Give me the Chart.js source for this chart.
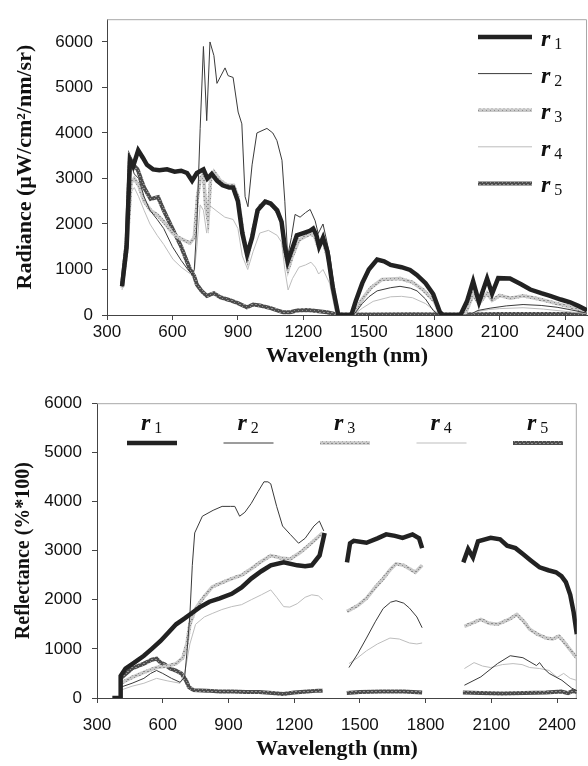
<!DOCTYPE html>
<html>
<head>
<meta charset="utf-8">
<script src="https://cdn.jsdelivr.net/npm/chart.js@4.4.1/dist/chart.umd.min.js"></script>
<style>
  body { margin: 0; background: #fff; }
  canvas { position: absolute; left: 0; }
</style>
</head>
<body>
<canvas id="rad" width="588" height="383" style="top:0"></canvas>
<canvas id="ref" width="588" height="383" style="top:383px"></canvas>
<script>
// ---- tick labels ----
const xTickVals = [300, 600, 900, 1200, 1500, 1800, 2100, 2400];
const yTickVals = [0, 1000, 2000, 3000, 4000, 5000, 6000];
const legendLabels = ['1', '2', '3', '4', '5'];

// ---- radiance (top) ----
const rad1W = [369,390,405,420,443,465,483,511,540,575,610,640,667,690,712,742,760,780,804,830,860,878,900,920,942,965,990,1025,1050,1080,1100,1115,1128,1145,1170,1200,1230,1245,1260,1272,1290,1310,1335,1360,1420,1440,1470,1500,1538,1570,1600,1650,1689,1720,1760,1795,1826,1840,1920,1950,1978,2005,2042,2065,2093,2147,2200,2240,2290,2331,2380,2423,2460,2482,2500];
const rad1  = [630,1500,3400,3270,3620,3450,3300,3200,3180,3200,3150,3170,3120,2950,3120,3200,3000,3100,2950,2850,2800,2800,2500,1800,1330,1700,2300,2490,2450,2300,2050,1500,1170,1400,1750,1800,1850,1900,1750,1500,1700,1400,600,0,0,300,700,1000,1220,1180,1100,1050,990,880,700,460,60,0,0,300,740,280,800,470,810,800,670,560,480,420,340,280,200,150,100];

const rad2W = [369,390,410,425,445,470,497,530,560,600,640,672,690,700,712,727,742,757,772,790,804,841,855,878,901,918,933,946,965,987,1033,1060,1079,1102,1115,1128,1145,1162,1185,1210,1231,1254,1268,1290,1322,1354,1370,1430,1470,1500,1538,1600,1643,1690,1721,1760,1795,1820,1960,2000,2056,2130,2207,2290,2363,2430,2500];
const rad2  = [630,1500,3300,3100,3000,2600,2300,2100,1900,1500,1200,990,900,1000,2000,4100,5900,4270,6000,5700,5090,5430,5260,5220,4460,4200,2600,2380,3300,4000,4100,4000,3830,3400,2500,1300,1700,2210,2150,2250,2320,2070,1790,2000,1300,100,0,0,250,400,530,600,630,590,530,350,100,0,0,100,150,200,230,210,170,110,40];

const rad3W = [369,390,410,425,445,470,500,530,560,600,621,650,680,700,715,727,742,752,763,775,790,820,850,880,900,920,945,970,1000,1030,1070,1100,1115,1130,1150,1180,1230,1250,1265,1290,1320,1345,1360,1430,1470,1510,1560,1643,1700,1750,1800,1830,1940,1978,2005,2042,2065,2100,2150,2207,2280,2363,2430,2470,2500];
const rad3  = [600,1400,2900,3000,2850,2500,2300,2200,2050,1800,1720,1650,1580,1700,2600,2990,3100,2400,2100,3000,3150,2950,2850,2850,2600,1900,1250,1900,2400,2500,2350,2050,1400,1000,1300,1650,1780,1750,1550,1650,1100,400,0,0,350,600,780,800,720,550,300,0,0,450,250,480,320,430,370,420,350,250,170,100,60];

const rad4W = [369,390,410,425,445,470,497,530,560,603,640,680,700,712,727,742,757,772,804,840,878,900,920,945,970,1000,1040,1080,1100,1115,1130,1150,1180,1210,1235,1255,1270,1290,1320,1350,1430,1470,1520,1600,1650,1700,1760,1800,1830,1960,2000,2050,2100,2207,2300,2400,2500];
const rad4  = [550,1300,2700,2800,2600,2300,2000,1750,1550,1220,1050,910,950,1500,2420,2300,1800,2400,2280,2150,2100,1900,1300,1000,1400,1800,1860,1750,1600,1000,550,800,1050,1100,1160,1050,900,1000,700,0,0,150,300,400,410,380,250,100,0,0,80,120,140,160,130,80,30];

const rad5W = [369,390,405,420,440,470,500,534,560,600,640,680,700,712,735,758,790,818,860,900,941,970,1001,1050,1080,1107,1140,1170,1220,1260,1308,1340,1380,1500,1700,1900,2100,2300,2500];
const rad5  = [650,1600,3450,3300,3200,2800,2550,2590,2300,1900,1500,1010,850,670,520,420,480,390,330,260,170,230,210,150,100,60,60,100,110,90,60,30,10,10,15,10,20,20,20];

// ---- reflectance (bottom), null = gap ----
const ref1W = [370,405,408,430,470,514,550,590,625,661,700,724,770,813,860,915,960,1004,1050,1093,1152,1214,1250,1280,1316,1339,1390,1441,1455,1472,1530,1580,1620,1660,1695,1740,1770,1784,1880,1972,1994,2016,2039,2097,2140,2172,2210,2244,2280,2320,2360,2395,2420,2440,2460,2475,2490];
const ref1  = [0,0,450,600,720,860,1000,1160,1330,1500,1620,1700,1850,1960,2030,2120,2250,2430,2580,2700,2760,2700,2680,2700,2900,3360,null,2760,3150,3200,3160,3250,3330,3300,3260,3330,3250,3050,null,2760,3030,2860,3190,3260,3230,3100,3050,2930,2800,2660,2600,2560,2480,2360,2100,1760,1300];

const ref2W = [408,460,514,545,572,600,640,679,700,712,724,735,746,781,830,871,910,929,951,975,1004,1035,1062,1080,1093,1120,1147,1182,1220,1250,1290,1315,1335,1390,1450,1490,1530,1570,1606,1640,1665,1700,1726,1760,1784,1880,1977,2052,2128,2186,2244,2290,2306,2320,2340,2364,2422,2467,2490];
const ref2  = [220,300,400,500,560,500,400,320,420,1000,1700,2700,3360,3700,3820,3900,3900,3900,3700,3780,3960,4200,4400,4400,4360,3900,3500,3330,3150,3250,3500,3600,3400,null,620,900,1220,1550,1820,1950,1980,1930,1830,1650,1430,null,260,430,700,860,820,700,660,720,600,500,360,200,150];

const ref3W = [408,460,514,572,620,661,692,710,724,750,790,826,870,915,960,1004,1050,1093,1140,1182,1227,1280,1330,1390,1441,1490,1530,1570,1606,1640,1665,1700,1726,1753,1784,1880,1977,2052,2090,2128,2180,2216,2250,2275,2310,2350,2380,2408,2430,2453,2489];
const ref3  = [300,420,520,620,650,700,820,1100,1500,1820,2070,2260,2350,2430,2500,2630,2780,2900,2850,2830,2960,3160,3360,null,1760,1880,2030,2250,2430,2620,2730,2700,2630,2560,2700,null,1460,1600,1520,1500,1600,1700,1550,1400,1300,1220,1200,1260,1150,1020,820];

const ref4W = [408,460,514,572,620,679,700,724,750,790,826,870,915,960,1004,1050,1093,1120,1152,1180,1214,1250,1280,1310,1330,1390,1450,1490,1530,1580,1637,1680,1726,1760,1784,1880,1977,2021,2060,2097,2150,2199,2240,2275,2320,2364,2400,2430,2460,2489];
const ref4  = [160,240,300,400,350,300,500,1100,1500,1650,1720,1800,1860,1900,2000,2100,2200,2050,1860,1850,1920,2050,2100,2080,2000,null,700,820,960,1100,1220,1200,1120,1100,1120,null,600,720,650,620,680,700,680,620,600,560,420,500,400,360];

const ref5W = [408,460,514,550,572,590,610,634,660,685,706,720,740,800,860,920,980,1040,1100,1150,1200,1260,1310,1330,1390,1440,1500,1600,1700,1784,1880,1970,2050,2150,2250,2350,2420,2450,2470,2490];
const ref5  = [400,600,700,780,800,720,680,600,560,500,360,220,160,150,130,130,120,120,100,80,110,130,150,150,null,100,120,130,130,110,null,110,100,90,100,110,130,100,140,120];

// ---- styles ----
function texture(base, dot) {
  const c = document.createElement('canvas');
  c.width = 4; c.height = 4;
  const g = c.getContext('2d');
  g.fillStyle = base; g.fillRect(0, 0, 4, 4);
  g.fillStyle = dot; g.fillRect(0, 0, 1, 1); g.fillRect(2, 2, 1, 1); g.fillRect(3, 0, 1, 1);
  return g.createPattern(c, 'repeat');
}
const styles = [
  { color: '#222', width: 4.5 },
  { color: '#3a3a3a', width: 1 },
  { color: texture('#c9c9c9', '#8e8e8e'), width: 3.5 },
  { color: '#bdbdbd', width: 1 },
  { color: texture('#4d4d4d', '#909090'), width: 4 }
];

function pts(w, v) { return w.map((x, i) => ({ x: x, y: v[i] })); }
function datasets(list) {
  return list.map((d, i) => ({
    label: 'r' + legendLabels[i],
    data: pts(d[0], d[1]),
    borderColor: styles[i].color,
    borderWidth: styles[i].width,
    pointRadius: 0,
    tension: 0,
    spanGaps: false,
    fill: false
  }));
}

const tickFont = { family: 'Liberation Sans', size: 17 };
const plain = v => String(v);

function drawLegendEntry(ctx, i, lx, ly, tx, ty) {
  ctx.save();
  ctx.strokeStyle = styles[i].color;
  ctx.lineWidth = styles[i].width;
  ctx.beginPath();
  ctx.moveTo(lx[0], ly); ctx.lineTo(lx[1], ly);
  ctx.stroke();
  ctx.fillStyle = '#111';
  ctx.textBaseline = 'alphabetic';
  ctx.font = 'italic bold 24px "Liberation Serif"';
  ctx.fillText('r', tx, ty);
  const w = ctx.measureText('r').width;
  ctx.font = '16px "Liberation Serif"';
  ctx.fillText(legendLabels[i], tx + w + 4, ty + 3);
  ctx.restore();
}

const frame = {
  id: 'frame',
  beforeDatasetsDraw(chart) {
    const a = chart.chartArea, ctx = chart.ctx;
    ctx.save();
    ctx.strokeStyle = '#a8a8a8';
    ctx.lineWidth = 1;
    ctx.beginPath();
    ctx.moveTo(a.left, a.top + 0.5);
    ctx.lineTo(a.right - 0.5, a.top + 0.5);
    ctx.lineTo(a.right - 0.5, a.bottom);
    ctx.stroke();
    ctx.restore();
  }
};

const topLegend = {
  id: 'topLegend',
  afterDraw(chart) {
    for (let i = 0; i < 5; i++) {
      const y = 37 + i * 36.6;
      drawLegendEntry(chart.ctx, i, [478, 532], y, 541, y + 9);
    }
  }
};

const bottomLegend = {
  id: 'bottomLegend',
  afterDraw(chart) {
    for (let i = 0; i < 5; i++) {
      const x0 = 127 + i * 96.5;
      drawLegendEntry(chart.ctx, i, [x0, x0 + 50], 60, x0 + 14, 47);
    }
  }
};

function makeChart(id, sets, cfg) {
  return new Chart(document.getElementById(id), {
    type: 'line',
    data: { datasets: datasets(sets) },
    options: {
      responsive: false,
      animation: false,
      events: [],
      layout: { padding: { left: 0, right: cfg.padRight, top: cfg.padTop, bottom: 0 } },
      plugins: { legend: { display: false }, tooltip: { enabled: false } },
      scales: {
        x: {
          type: 'linear', min: 300, max: cfg.xMax,
          afterBuildTicks: s => { s.ticks = xTickVals.map(v => ({ value: v })); },
          afterFit: s => { s.height = 68; },
          grid: { drawOnChartArea: false, tickLength: 5, color: '#444' },
          border: { color: '#444', width: 1 },
          ticks: { font: tickFont, color: '#111', padding: cfg.xPad, maxRotation: 0, autoSkip: false, callback: plain },
          title: { display: true, text: 'Wavelength (nm)', font: { family: 'Liberation Serif', size: 22, weight: 'bold' }, color: '#111', padding: { top: 0, bottom: cfg.xTitlePad } }
        },
        y: {
          min: 0, max: cfg.yMax,
          afterBuildTicks: s => { s.ticks = yTickVals.map(v => ({ value: v })); },
          afterFit: s => { s.width = cfg.yWidth; },
          grid: { drawOnChartArea: false, tickLength: 5, color: '#444' },
          border: { color: '#444', width: 1 },
          ticks: { font: tickFont, color: '#111', padding: cfg.yPad, callback: plain },
          title: { display: true, text: cfg.yTitle, font: { family: 'Liberation Serif', size: cfg.yTitleSize, weight: 'bold' }, color: '#111', padding: { top: 12, bottom: 0 } }
        }
      }
    },
    plugins: [frame, cfg.legend]
  });
}

makeChart('rad', [[rad1W, rad1], [rad2W, rad2], [rad3W, rad3], [rad4W, rad4], [rad5W, rad5]], {
  xMax: 2500, yMax: 6500, padTop: 5, padRight: 1, yWidth: 107, xPad: 2, yPad: 9, xTitlePad: 13,
  yTitle: 'Radiance (\u00b5W/cm\u00b2/nm/sr)', yTitleSize: 22, legend: topLegend
});

makeChart('ref', [[ref1W, ref1], [ref2W, ref2], [ref3W, ref3], [ref4W, ref4], [ref5W, ref5]], {
  xMax: 2490, yMax: 6000, padTop: 15, padRight: 0, yWidth: 97, xPad: 12, yPad: 10, xTitlePad: 3,
  yTitle: 'Reflectance (%*100)', yTitleSize: 20, legend: bottomLegend
});
</script>
</body>
</html>
